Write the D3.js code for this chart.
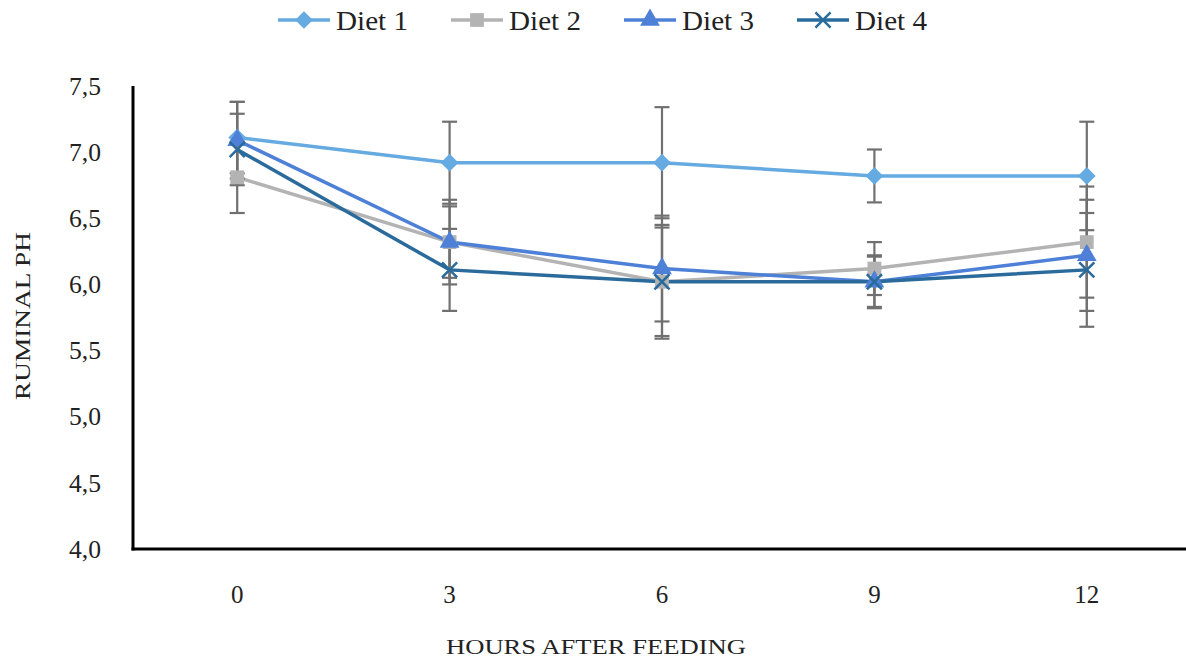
<!DOCTYPE html>
<html>
<head>
<meta charset="utf-8">
<script src="https://cdn.jsdelivr.net/npm/d3@7"></script>
<style>
  body { margin: 0; background: #fff; }
  svg text { font-family: "Liberation Serif", "Times New Roman", Times, "DejaVu Serif", serif; }
</style>
</head>
<body>
<svg id="chart" width="1186" height="661"></svg>
<script>
// データ
const hours = ["0", "3", "6", "9", "12"];
const seriesNames = ["Diet 1", "Diet 2", "Diet 3", "Diet 4"];
const diet1 = [7.11, 6.92, 6.92, 6.82, 6.82];
const diet2 = [6.81, 6.32, 6.02, 6.12, 6.32];
const diet3 = [7.09, 6.32, 6.12, 6.02, 6.22];
const diet4 = [7.02, 6.11, 6.02, 6.02, 6.11];
const err1 = [0.27, 0.31, 0.42, 0.20, 0.41];
const err2 = [0.27, 0.32, 0.43, 0.20, 0.42];
const err3 = [0.29, 0.27, 0.40, 0.20, 0.42];
const err4 = [0.27, 0.31, 0.41, 0.19, 0.43];
const yTicks = [4.0, 4.5, 5.0, 5.5, 6.0, 6.5, 7.0, 7.5];

const colors = ["#65aae0", "#b3b3b3", "#4d80d6", "#2a6b9c"];
const symbols = [d3.symbolDiamond2, d3.symbolSquare, d3.symbolTriangle, d3.symbolX];
const symSizes = [200, 190, 170, 150];

const series = [diet1, diet2, diet3, diet4].map((vals, i) => ({
  name: seriesNames[i],
  color: colors[i],
  symbol: symbols[i],
  size: symSizes[i],
  points: vals.map((v, j) => ({ h: hours[j], v: v, e: [err1, err2, err3, err4][i][j] }))
}));

const svg = d3.select("#chart");
const fontFam = "Liberation Serif, Times New Roman, Times, serif";

const x = d3.scalePoint().domain(hours).range([131, 1193]).padding(0.5);
const y = d3.scaleLinear().domain([4, 7.5]).range([549, 86]);

// 軸
svg.append("line")
  .attr("x1", 133).attr("x2", 133)
  .attr("y1", y(7.5)).attr("y2", y(4) + 1.5)
  .attr("stroke", "#000").attr("stroke-width", 3);
svg.append("line")
  .attr("x1", 131.5).attr("x2", 1186)
  .attr("y1", y(4)).attr("y2", y(4))
  .attr("stroke", "#000").attr("stroke-width", 3);

svg.append("g").selectAll("text")
  .data(yTicks)
  .join("text")
  .attr("x", 101)
  .attr("y", (d) => y(d))
  .attr("dy", "0.35em")
  .attr("text-anchor", "end")
  .attr("font-family", fontFam)
  .attr("font-size", 25)
  .attr("textLength", 32)
  .attr("lengthAdjust", "spacingAndGlyphs")
  .attr("fill", "#222")
  .text((d) => d3.format(".1f")(d).replace(".", ","));

svg.append("g").selectAll("text")
  .data(hours)
  .join("text")
  .attr("x", (d) => x(d))
  .attr("y", 594)
  .attr("dy", "0.35em")
  .attr("text-anchor", "middle")
  .attr("font-family", fontFam)
  .attr("font-size", 25)
  .attr("fill", "#222")
  .text((d) => d);

svg.append("text")
  .attr("x", 596).attr("y", 646)
  .attr("dy", "0.35em")
  .attr("text-anchor", "middle")
  .attr("font-family", fontFam)
  .attr("font-size", 22)
  .attr("textLength", 300)
  .attr("lengthAdjust", "spacingAndGlyphs")
  .attr("fill", "#222")
  .text("HOURS AFTER FEEDING");

svg.append("text")
  .attr("transform", "translate(22,316) rotate(-90)")
  .attr("dy", "0.35em")
  .attr("text-anchor", "middle")
  .attr("font-family", fontFam)
  .attr("font-size", 22)
  .attr("textLength", 168)
  .attr("lengthAdjust", "spacingAndGlyphs")
  .attr("fill", "#222")
  .text("RUMINAL PH");

// 線
const line = d3.line().x((d) => x(d.h)).y((d) => y(d.v));

svg.append("g").selectAll("path")
  .data(series)
  .join("path")
  .attr("d", (d) => line(d.points))
  .attr("fill", "none")
  .attr("stroke", (d) => d.color)
  .attr("stroke-width", 3.5);

// エラーバー
const errG = svg.append("g")
  .attr("stroke", "#707070")
  .attr("stroke-width", 2.2);
series.forEach((s) => {
  s.points.forEach((p) => {
    const cx = x(p.h);
    const top = y(p.v + p.e);
    const bot = y(p.v - p.e);
    errG.append("line").attr("x1", cx).attr("x2", cx).attr("y1", top).attr("y2", bot);
    errG.append("line").attr("x1", cx - 7.5).attr("x2", cx + 7.5).attr("y1", top).attr("y2", top);
    errG.append("line").attr("x1", cx - 7.5).attr("x2", cx + 7.5).attr("y1", bot).attr("y2", bot);
  });
});

// マーカー
series.forEach((s) => {
  svg.append("g").selectAll("path")
    .data(s.points)
    .join("path")
    .attr("transform", (d) => `translate(${x(d.h)},${y(d.v)})`)
    .attr("d", d3.symbol().type(s.symbol).size(s.size))
    .attr("fill", s.symbol === d3.symbolX ? "none" : s.color)
    .attr("stroke", s.color)
    .attr("stroke-width", s.symbol === d3.symbolX ? 2.5 : 0);
});

// 凡例
const legend = svg.append("g").selectAll("g")
  .data(series)
  .join("g")
  .attr("transform", (d, i) => `translate(${278 + i * 173},20)`);

legend.append("line")
  .attr("x1", 0).attr("x2", 52)
  .attr("stroke", (d) => d.color)
  .attr("stroke-width", 3.5);
legend.append("path")
  .attr("transform", "translate(26,0)")
  .attr("d", (d) => d3.symbol().type(d.symbol).size(d.size)())
  .attr("fill", (d) => (d.symbol === d3.symbolX ? "none" : d.color))
  .attr("stroke", (d) => d.color)
  .attr("stroke-width", (d) => (d.symbol === d3.symbolX ? 2.5 : 0));
legend.append("text")
  .attr("x", 58)
  .attr("dy", "0.35em")
  .attr("font-family", fontFam)
  .attr("font-size", 28)
  .attr("textLength", 72)
  .attr("lengthAdjust", "spacingAndGlyphs")
  .attr("fill", "#222")
  .text((d) => d.name);
</script>
</body>
</html>
